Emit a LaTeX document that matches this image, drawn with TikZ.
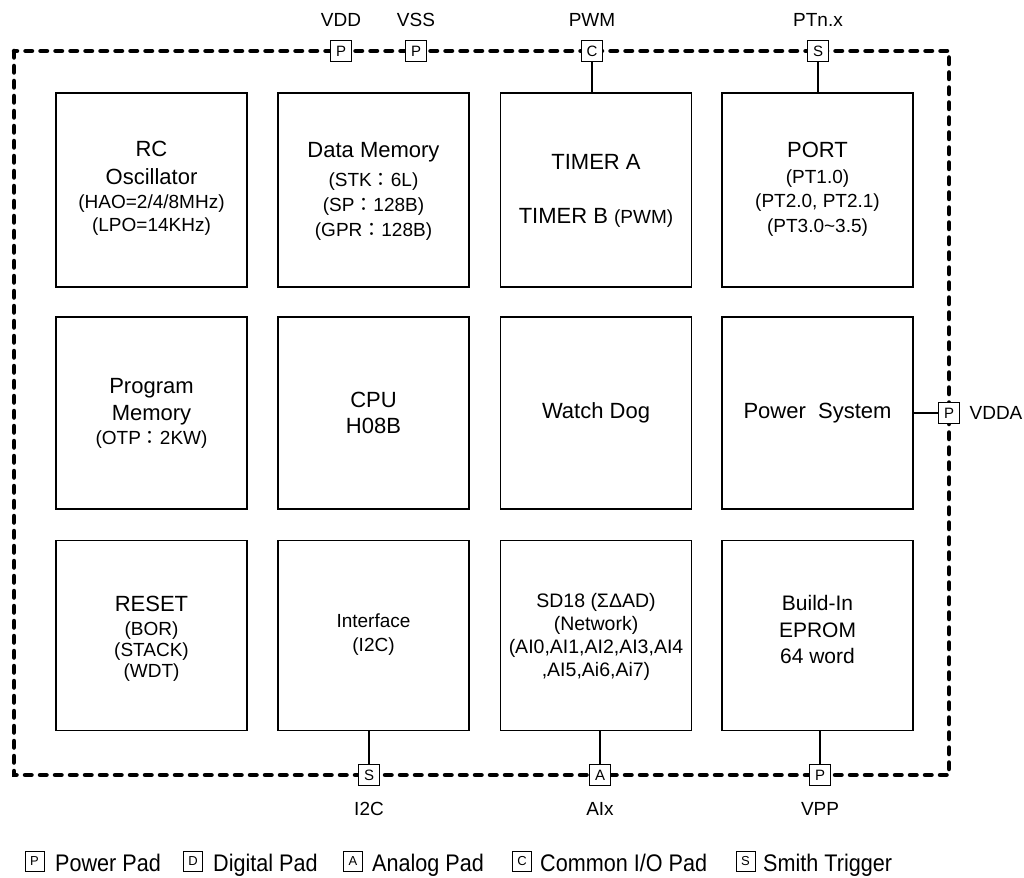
\documentclass[tikz,border=0pt]{standalone}
\usepackage{fontspec}
\setmainfont{Liberation Sans}
\newfontfamily\cjk{Noto Sans CJK TC}
\newfontfamily\legf[FakeStretch=0.9]{Liberation Sans}
\newcommand\bigf{\fontsize{22pt}{25pt}\selectfont}
\newcommand\smf{\fontsize{19pt}{25pt}\selectfont}
\newcommand\fwc{{\cjk ：}}
\tikzset{
  blk/.style={draw, line width=1.4pt, minimum width=191pt, inner sep=0pt},
  txt/.style={inner sep=0pt, align=center, font=\bigf},
  pad/.style={draw, fill=white, line width=1pt, minimum size=21pt, inner sep=0pt, font=\fontsize{15pt}{15pt}\selectfont},
  legpad/.style={draw, fill=white, line width=0.9pt, minimum width=19pt, minimum height=20pt, inner sep=0pt, font=\fontsize{13pt}{13pt}\selectfont},
  lbl/.style={inner sep=0pt, font=\fontsize{19pt}{19pt}\selectfont},
  legtxt/.style={inner sep=0pt, anchor=base west, font=\legf\fontsize{24pt}{24pt}\selectfont},
  wire/.style={line width=1.3pt},
  border/.style={line width=4.5pt, line cap=round, dash pattern=on 6.5pt off 8.5pt},
}
\begin{document}
\begin{tikzpicture}[x=1pt,y=-1pt]
\useasboundingbox (0,0) rectangle (1024,877);

% dashed chip outline
\draw[border] (14,51) rectangle (949,775);

% row 1
\node[blk, minimum height=194pt] (rc) at (151.5,190) {};
\node[blk, minimum height=194pt] (dmem) at (373.5,190) {};
\node[blk, minimum height=194pt] (timer) at (596,190) {};
\node[blk, minimum height=194pt] (port) at (817.5,190) {};
% row 2
\node[blk, minimum height=192pt] (pmem) at (151.5,413) {};
\node[blk, minimum height=192pt] (cpu) at (373.5,413) {};
\node[blk, minimum height=192pt] (wdog) at (596,413) {};
\node[blk, minimum height=192pt] (psys) at (817.5,413) {};
% row 3
\node[blk, minimum height=190pt] (rst) at (151.5,635.5) {};
\node[blk, minimum height=190pt] (intf) at (373.5,635.5) {};
\node[blk, minimum height=190pt] (sd) at (596,635.5) {};
\node[blk, minimum height=190pt] (eprom) at (817.5,635.5) {};

% block texts
\node[txt] (rct) at ([yshift=2pt]rc.center)
  {RC\\[3pt] Oscillator\\[-1pt] \smf (HAO=2/4/8MHz)\\[-2pt] \smf (LPO=14KHz)};
\node[txt] (dmemt) at ([yshift=-1pt]dmem.center)
  {Data Memory\\[4pt] \smf (STK\fwc 6L)\\ \smf (SP\fwc 128B)\\ \smf (GPR\fwc 128B)};
\node[txt] (timert) at ([yshift=-1pt]timer.center)
  {TIMER A\\[29pt] TIMER B {\smf (PWM)}};
\node[txt] (portt) at ([yshift=1pt]port.center)
  {PORT\\[1pt] \smf (PT1.0)\\[-1pt] \smf (PT2.0, PT2.1)\\ \smf (PT3.0\textasciitilde 3.5)};
\node[txt] (pmemt) at (pmem.center)
  {Program\\[2pt] Memory\\[-1pt] \smf (OTP\fwc 2KW)};
\node[txt] (cput) at (cpu.center)
  {CPU\\[1pt] H08B};
\node[txt] (wdogt) at (wdog.center) {Watch Dog};
\node[txt] (psyst) at (psys.center) {Power\ \ System};
\node[txt] (rstt) at ([yshift=-3pt]rst.center)
  {RESET\\[-1pt] \smf (BOR)\\[-4pt] \smf (STACK)\\[-4pt] \smf (WDT)};
\node[txt, font=\smf] (intft) at ([yshift=1pt]intf.center)
  {Interface\\[-1pt] (I2C)};
\node[txt, font=\fontsize{19.5pt}{23pt}\selectfont] (sdt) at ([yshift=-1pt]sd.center)
  {SD18 (ΣΔAD)\\ (Network)\\ (AI0,AI1,AI2,AI3,AI4\\ ,AI5,Ai6,Ai7)};
\node[txt, font=\fontsize{21pt}{26.5pt}\selectfont] (epromt) at ([yshift=6pt]eprom.center)
  {Build-In\\ EPROM\\ 64 word};

% pads
\node[pad] (pvdd) at (341,51) {P};
\node[pad] (pvss) at (416,51) {P};
\node[pad] (ppwm) at (592,51) {C};
\node[pad] (ppt) at (818,51) {S};
\node[pad] (pvdda) at (949,413) {P};
\node[pad] (pi2c) at (369,775) {S};
\node[pad] (paix) at (600,775) {A};
\node[pad] (pvpp) at (820,775) {P};

% connectors
\draw[wire] (ppwm.south) -- (ppwm.south |- timer.north);
\draw[wire] (ppt.south) -- (ppt.south |- port.north);
\draw[wire] (psys.east) -- (pvdda.west);
\draw[wire] (pi2c.north) -- (pi2c.north |- intf.south);
\draw[wire] (paix.north) -- (paix.north |- sd.south);
\draw[wire] (pvpp.north) -- (pvpp.north |- eprom.south);

% pin labels
\node[lbl] (lvdd) at (341,20) {VDD};
\node[lbl] (lvss) at (416,20) {VSS};
\node[lbl] (lpwm) at (592,20) {PWM};
\node[lbl] (lpt) at (818,20) {PTn.x};
\node[lbl] (lvdda) at (996,413) {VDDA};
\node[lbl] (li2c) at (369,809) {I2C};
\node[lbl] (laix) at (600,809) {AIx};
\node[lbl] (lvpp) at (820,809) {VPP};

% legend
\node[legpad] (kp) at (34.5,861) {P};
\node[legtxt] (tp) at (55,871.5) {Power Pad};
\node[legpad] (kd) at (193,861) {D};
\node[legtxt] (td) at (213,871.5) {Digital Pad};
\node[legpad] (ka) at (353,861) {A};
\node[legtxt] (ta) at (372,871.5) {Analog Pad};
\node[legpad] (kc) at (522,861) {C};
\node[legtxt] (tc) at (540,871.5) {Common I/O Pad};
\node[legpad] (ks) at (745.5,861) {S};
\node[legtxt] (ts) at (763,871.5) {Smith Trigger};
\end{tikzpicture}
\end{document}
